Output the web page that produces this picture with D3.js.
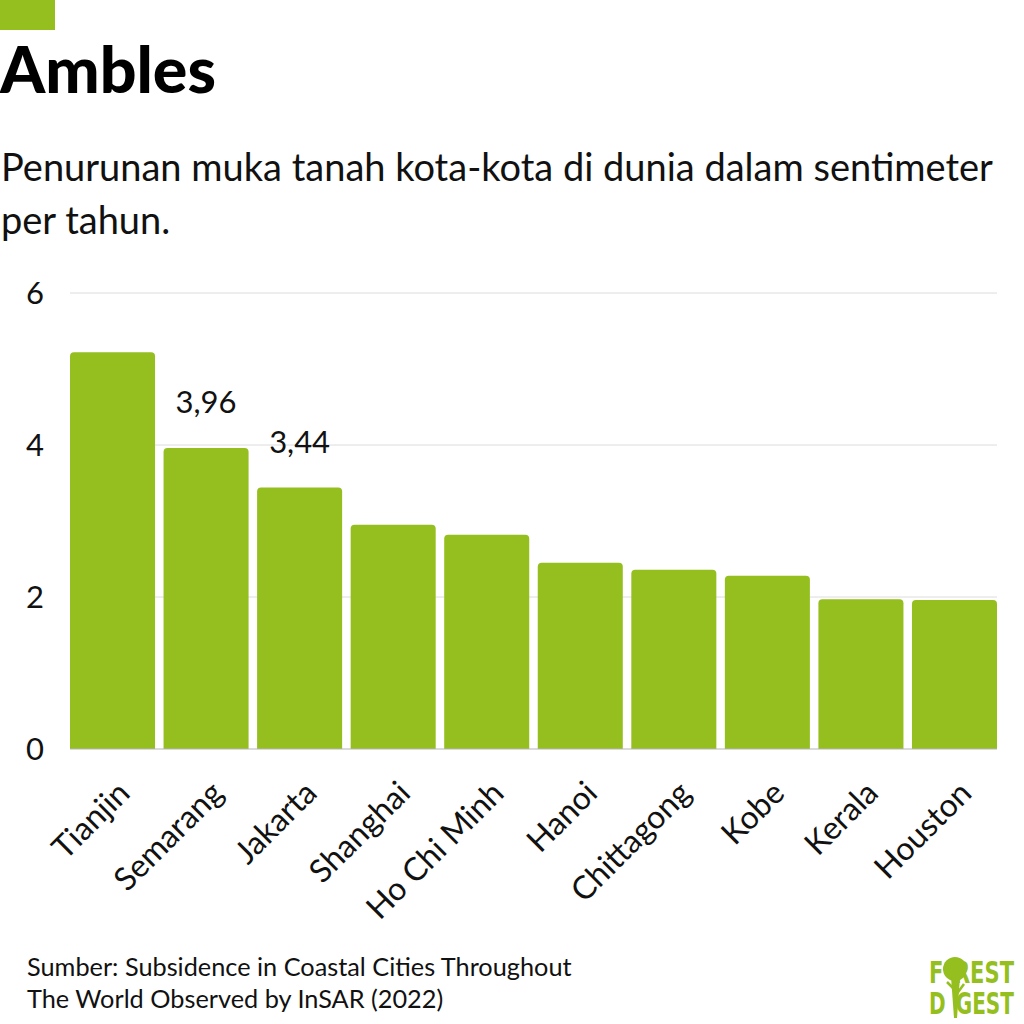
<!DOCTYPE html>
<html><head><meta charset="utf-8">
<script src="https://cdn.jsdelivr.net/npm/d3@7"></script>
<style>
html,body{margin:0;padding:0;background:#fff;}
svg{display:block;font-family:Lato,"Open Sans",sans-serif;}
</style></head>
<body>
<svg id="c" width="1024" height="1024"></svg>
<script>
const categories = ["Tianjin","Semarang","Jakarta","Shanghai","Ho Chi Minh","Hanoi","Chittagong","Kobe","Kerala","Houston"];
const values = [5.22,3.96,3.44,2.95,2.82,2.45,2.36,2.28,1.97,1.96];
const valueLabels = [null,"3,96","3,44",null,null,null,null,null,null,null];
const yTicks = [0,2,4,6];
const title = "Ambles";
const subtitleLines = ["Penurunan muka tanah kota-kota di dunia dalam sentimeter","per tahun."];
const sourceLines = ["Sumber: Subsidence in Coastal Cities Throughout","The World Observed by InSAR (2022)"];

const svg = d3.select("#c");
const green = "#95bf1f";

svg.append("rect").attr("x",0).attr("y",0).attr("width",55).attr("height",30).attr("fill",green);
svg.append("text").attr("x",0).attr("y",93).attr("font-size",64.5).attr("font-weight",900).attr("fill","#000").text(title);
svg.append("g").selectAll("text").data(subtitleLines).join("text")
  .attr("x",1).attr("y",(d,i)=>181+i*53).attr("font-size",38).attr("fill","#111").text(d=>d);

const x = d3.scaleBand().domain(categories).range([70,997]).paddingInner(0.091).paddingOuter(0);
const y = d3.scaleLinear().domain([0,6]).range([749,293]);

// gridlines
svg.append("g").selectAll("line").data(yTicks.filter(t=>t>0)).join("line")
  .attr("x1",70).attr("x2",997).attr("y1",d=>y(d)).attr("y2",d=>y(d))
  .attr("stroke","#dcdcdc").attr("stroke-width",1);

// y labels
svg.append("g").selectAll("text").data(yTicks).join("text")
  .attr("x",35).attr("y",d=>y(d)+11).attr("text-anchor","middle")
  .attr("font-size",31).attr("fill","#111").text(d=>d);

// bars with rounded top corners
const r = 4;
svg.append("g").selectAll("path").data(categories).join("path")
  .attr("fill",green)
  .attr("d",(c,i)=>{
    const x0=x(c), w=x.bandwidth(), y0=y(values[i]), yb=y(0);
    return `M${x0},${yb}V${y0+r}Q${x0},${y0} ${x0+r},${y0}H${x0+w-r}Q${x0+w},${y0} ${x0+w},${y0+r}V${yb}Z`;
  });

// baseline
svg.append("line").attr("x1",70).attr("x2",997).attr("y1",y(0)).attr("y2",y(0)).attr("stroke","#b5b5b5").attr("stroke-width",1);

// value labels
svg.append("g").selectAll("text").data(categories.map((c,i)=>({c,i})).filter(d=>valueLabels[d.i])).join("text")
  .attr("x",d=>x(d.c)+x.bandwidth()/2).attr("y",d=>y(values[d.i])-35)
  .attr("text-anchor","middle").attr("font-size",31).attr("fill","#111").text(d=>valueLabels[d.i]);

// x labels
svg.append("g").selectAll("text").data(categories).join("text")
  .attr("transform",c=>`translate(${x(c)+x.bandwidth()/2+19},${y(0)+46}) rotate(-45)`)
  .attr("text-anchor","end").attr("font-size",32).attr("fill","#111").text(c=>c);

// source
svg.append("g").selectAll("text").data(sourceLines).join("text")
  .attr("x",27).attr("y",(d,i)=>976+i*32).attr("font-size",25.3).attr("fill","#111").text(d=>d);

// logo
const lg = svg.append("g").attr("fill",green).attr("font-family","'Liberation Sans Narrow','DejaVu Sans Condensed',sans-serif").attr("font-weight",700);
lg.append("text").attr("transform","translate(929,983) scale(1,1.25)").attr("font-size",24).attr("textLength",85).attr("lengthAdjust","spacingAndGlyphs").text("F\u2002REST");
lg.append("text").attr("transform","translate(929,1014) scale(1,1.25)").attr("font-size",24).attr("textLength",85).attr("lengthAdjust","spacingAndGlyphs").text("D\u2002GEST");
lg.append("circle").attr("cx",955).attr("cy",969).attr("r",12);
lg.append("path").attr("d","M951,977 L954,1018 L957,1018 L960,977 Z");
lg.append("path").attr("d","M955,990 L947,982 M956,995 L964,984").attr("stroke",green).attr("stroke-width",2.5);
</script>
</body></html>
